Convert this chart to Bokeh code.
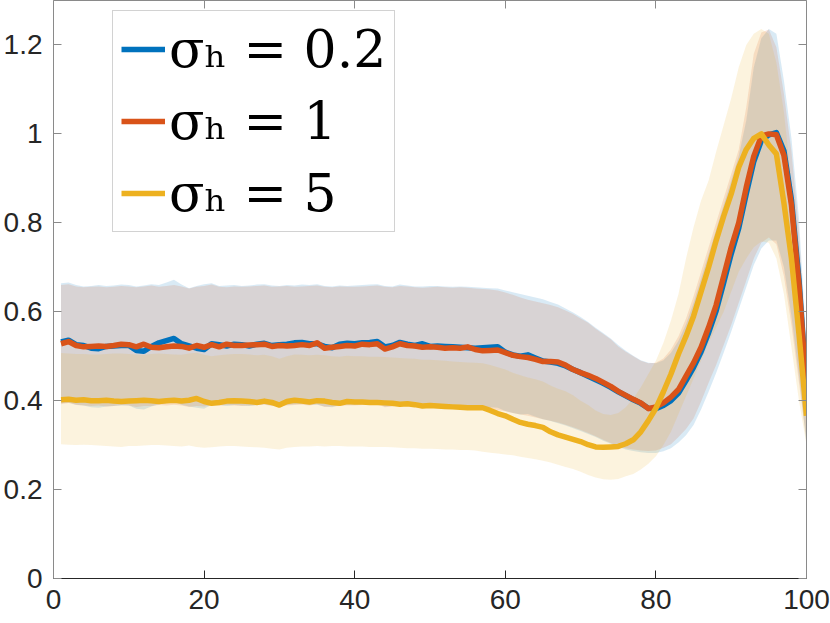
from bokeh.plotting import figure
from bokeh.models import Range1d, LinearAxis, FixedTicker, Legend, LegendItem
from bokeh.embed import file_html
from bokeh.resources import INLINE

# ---------------- data ----------------
X = list(range(1, 101))

SERIES_LABELS = ["σₕ = 0.2", "σₕ = 1", "σₕ = 5"]
SERIES_COLORS = ["#0072BD", "#D95319", "#EDB120"]

MEAN_02 = [
    0.532, 0.536, 0.526, 0.524, 0.518, 0.517, 0.522, 0.523, 0.524, 0.524,
    0.513, 0.511, 0.522, 0.530, 0.535, 0.540, 0.528, 0.523, 0.518, 0.515,
    0.528, 0.526, 0.523, 0.527, 0.526, 0.523, 0.527, 0.529, 0.524, 0.526,
    0.527, 0.530, 0.531, 0.528, 0.528, 0.522, 0.519, 0.527, 0.529, 0.528,
    0.530, 0.531, 0.533, 0.521, 0.524, 0.531, 0.527, 0.524, 0.528, 0.522,
    0.523, 0.522, 0.521, 0.520, 0.519, 0.518, 0.519, 0.520, 0.521, 0.509,
    0.503, 0.500, 0.503, 0.496, 0.489, 0.487, 0.484, 0.478, 0.470, 0.463,
    0.455, 0.447, 0.439, 0.430, 0.420, 0.411, 0.402, 0.394, 0.383, 0.382,
    0.389, 0.400, 0.417, 0.445, 0.475, 0.510, 0.553, 0.602, 0.665, 0.730,
    0.788, 0.865, 0.938, 0.985, 0.998, 1.003, 0.962, 0.852, 0.672, 0.430,
]
MEAN_1 = [
    0.528, 0.533, 0.524, 0.521, 0.522, 0.523, 0.522, 0.524, 0.527, 0.526,
    0.521, 0.527, 0.520, 0.519, 0.521, 0.523, 0.522, 0.518, 0.524, 0.520,
    0.526, 0.521, 0.527, 0.524, 0.524, 0.525, 0.526, 0.527, 0.522, 0.524,
    0.523, 0.524, 0.526, 0.524, 0.530, 0.518, 0.520, 0.522, 0.524, 0.523,
    0.527, 0.526, 0.528, 0.516, 0.521, 0.528, 0.524, 0.523, 0.520, 0.521,
    0.520, 0.518, 0.519, 0.518, 0.521, 0.515, 0.512, 0.513, 0.514, 0.508,
    0.502, 0.499, 0.497, 0.493, 0.488, 0.488, 0.487, 0.480, 0.470, 0.463,
    0.457, 0.450, 0.441, 0.432, 0.421, 0.412, 0.403, 0.395, 0.382, 0.386,
    0.395, 0.408, 0.425, 0.455, 0.485, 0.520, 0.565, 0.615, 0.680, 0.745,
    0.800, 0.880, 0.950, 0.995, 1.000, 0.998, 0.952, 0.840, 0.660, 0.430,
]
MEAN_5 = [
    0.402, 0.403, 0.401, 0.402, 0.400, 0.400, 0.401, 0.399, 0.398, 0.399,
    0.400, 0.401, 0.400, 0.398, 0.400, 0.401, 0.399, 0.401, 0.405, 0.398,
    0.394, 0.396, 0.399, 0.400, 0.399, 0.398, 0.396, 0.399, 0.396, 0.390,
    0.398, 0.401, 0.399, 0.397, 0.400, 0.399, 0.396, 0.394, 0.398, 0.397,
    0.397, 0.396, 0.396, 0.395, 0.394, 0.392, 0.393, 0.391, 0.388, 0.389,
    0.388, 0.387, 0.386, 0.385, 0.384, 0.384, 0.384, 0.378, 0.371, 0.366,
    0.358, 0.351, 0.347, 0.344, 0.340, 0.330, 0.323, 0.318, 0.313, 0.308,
    0.301, 0.296, 0.295, 0.296, 0.297, 0.303, 0.312, 0.330, 0.355, 0.383,
    0.420, 0.460, 0.505, 0.545, 0.590, 0.645, 0.700, 0.760, 0.815, 0.865,
    0.925, 0.965, 0.990, 1.000, 0.975, 0.955, 0.845, 0.720, 0.550, 0.366,
]

UPPER_02 = [
    0.664, 0.666, 0.660, 0.657, 0.658, 0.660, 0.658, 0.659, 0.661, 0.660,
    0.657, 0.659, 0.662, 0.660, 0.666, 0.672, 0.661, 0.653, 0.658, 0.662,
    0.664, 0.658, 0.659, 0.660, 0.658, 0.659, 0.661, 0.662, 0.659, 0.658,
    0.660, 0.659, 0.661, 0.660, 0.662, 0.658, 0.657, 0.659, 0.658, 0.659,
    0.660, 0.661, 0.662, 0.658, 0.657, 0.661, 0.659, 0.657, 0.657, 0.658,
    0.658, 0.657, 0.656, 0.657, 0.656, 0.655, 0.654, 0.653, 0.652, 0.648,
    0.644, 0.640, 0.636, 0.632, 0.628, 0.622, 0.616, 0.607, 0.598, 0.588,
    0.577, 0.564, 0.552, 0.540, 0.525, 0.512, 0.501, 0.491, 0.485, 0.484,
    0.491, 0.508, 0.535, 0.572, 0.620, 0.675, 0.730, 0.785, 0.840, 0.895,
    0.950, 1.030, 1.150, 1.215, 1.236, 1.225, 1.120, 0.990, 0.810, 0.520,
]
LOWER_02 = [
    0.394, 0.396, 0.391, 0.389, 0.385, 0.384, 0.387, 0.388, 0.389, 0.389,
    0.382, 0.380, 0.387, 0.392, 0.395, 0.398, 0.391, 0.387, 0.384, 0.382,
    0.391, 0.390, 0.388, 0.390, 0.389, 0.388, 0.390, 0.392, 0.389, 0.389,
    0.390, 0.392, 0.393, 0.391, 0.391, 0.387, 0.385, 0.390, 0.391, 0.391,
    0.392, 0.393, 0.394, 0.387, 0.388, 0.393, 0.390, 0.388, 0.390, 0.387,
    0.388, 0.387, 0.387, 0.386, 0.386, 0.385, 0.385, 0.385, 0.384, 0.377,
    0.372, 0.369, 0.370, 0.364, 0.358, 0.354, 0.349, 0.344, 0.338, 0.332,
    0.325, 0.318, 0.310, 0.303, 0.296, 0.290, 0.287, 0.284, 0.282, 0.282,
    0.286, 0.293, 0.306, 0.322, 0.345, 0.380, 0.420, 0.462, 0.508, 0.555,
    0.605, 0.655, 0.705, 0.742, 0.760, 0.760, 0.700, 0.590, 0.455, 0.300,
]
UPPER_1 = [
    0.660, 0.662, 0.657, 0.655, 0.656, 0.657, 0.655, 0.656, 0.658, 0.657,
    0.655, 0.657, 0.659, 0.656, 0.658, 0.660, 0.657, 0.652, 0.656, 0.658,
    0.661, 0.656, 0.655, 0.657, 0.656, 0.657, 0.658, 0.659, 0.656, 0.657,
    0.658, 0.656, 0.657, 0.658, 0.659, 0.656, 0.655, 0.657, 0.656, 0.656,
    0.657, 0.658, 0.659, 0.656, 0.655, 0.658, 0.657, 0.655, 0.654, 0.655,
    0.656, 0.655, 0.654, 0.655, 0.654, 0.652, 0.651, 0.650, 0.648, 0.643,
    0.638, 0.632, 0.627, 0.623, 0.619, 0.615, 0.610, 0.603, 0.595, 0.585,
    0.575, 0.562, 0.550, 0.538, 0.522, 0.510, 0.500, 0.490, 0.484, 0.485,
    0.495, 0.515, 0.545, 0.585, 0.635, 0.690, 0.745, 0.800, 0.855, 0.910,
    0.965, 1.060, 1.180, 1.228, 1.235, 1.195, 1.090, 0.960, 0.780, 0.500,
]
LOWER_1 = [
    0.392, 0.395, 0.390, 0.389, 0.388, 0.389, 0.387, 0.388, 0.390, 0.389,
    0.386, 0.388, 0.388, 0.390, 0.389, 0.391, 0.389, 0.386, 0.388, 0.387,
    0.390, 0.389, 0.390, 0.389, 0.388, 0.389, 0.390, 0.391, 0.388, 0.387,
    0.389, 0.390, 0.391, 0.389, 0.392, 0.386, 0.387, 0.388, 0.389, 0.389,
    0.390, 0.391, 0.392, 0.385, 0.387, 0.391, 0.389, 0.388, 0.387, 0.387,
    0.387, 0.386, 0.386, 0.386, 0.387, 0.385, 0.383, 0.381, 0.379, 0.376,
    0.372, 0.369, 0.366, 0.362, 0.358, 0.355, 0.351, 0.346, 0.340, 0.334,
    0.327, 0.320, 0.312, 0.305, 0.298, 0.293, 0.290, 0.288, 0.287, 0.288,
    0.294, 0.302, 0.318, 0.336, 0.360, 0.398, 0.440, 0.480, 0.525, 0.570,
    0.620, 0.670, 0.720, 0.755, 0.767, 0.752, 0.680, 0.570, 0.440, 0.310,
]
UPPER_5 = [
    0.507, 0.506, 0.505, 0.505, 0.504, 0.504, 0.505, 0.506, 0.506, 0.505,
    0.504, 0.503, 0.505, 0.506, 0.505, 0.504, 0.503, 0.506, 0.508, 0.503,
    0.500, 0.502, 0.504, 0.505, 0.505, 0.504, 0.502, 0.503, 0.500, 0.494,
    0.500, 0.504, 0.503, 0.502, 0.503, 0.502, 0.500, 0.499, 0.501, 0.500,
    0.500, 0.499, 0.499, 0.498, 0.497, 0.496, 0.495, 0.494, 0.492, 0.492,
    0.491, 0.490, 0.488, 0.487, 0.486, 0.485, 0.484, 0.480, 0.475, 0.470,
    0.463, 0.457, 0.452, 0.448, 0.443, 0.434, 0.427, 0.421, 0.412, 0.400,
    0.390, 0.378, 0.370, 0.368, 0.372, 0.385, 0.405, 0.430, 0.460, 0.490,
    0.530, 0.580, 0.640, 0.720, 0.790, 0.850, 0.895, 0.960, 1.020, 1.080,
    1.150, 1.200, 1.225, 1.236, 1.225, 1.160, 1.050, 0.890, 0.700, 0.480,
]
LOWER_5 = [
    0.302, 0.301, 0.300, 0.301, 0.300, 0.299, 0.298, 0.297, 0.296, 0.298,
    0.298, 0.299, 0.300, 0.300, 0.299, 0.298, 0.297, 0.299, 0.296, 0.294,
    0.295, 0.297, 0.298, 0.298, 0.297, 0.296, 0.295, 0.294, 0.292, 0.290,
    0.294, 0.296, 0.297, 0.297, 0.298, 0.297, 0.298, 0.298, 0.297, 0.297,
    0.297, 0.296, 0.296, 0.296, 0.295, 0.294, 0.293, 0.293, 0.292, 0.292,
    0.291, 0.290, 0.290, 0.289, 0.289, 0.288, 0.285, 0.283, 0.281, 0.279,
    0.277, 0.274, 0.271, 0.268, 0.265, 0.261, 0.256, 0.251, 0.246, 0.240,
    0.233, 0.227, 0.223, 0.222, 0.224, 0.230, 0.235, 0.245, 0.258, 0.275,
    0.300, 0.330, 0.370, 0.410, 0.450, 0.490, 0.530, 0.565, 0.600, 0.645,
    0.690, 0.720, 0.745, 0.758, 0.755, 0.720, 0.640, 0.520, 0.400, 0.300,
]

X_TICKS = [0, 20, 40, 60, 80, 100]
Y_TICKS = [0, 0.2, 0.4, 0.6, 0.8, 1.0, 1.2]
Y_TICK_LABELS = ["0", "0.2", "0.4", "0.6", "0.8", "1", "1.2"]

MEANS = [MEAN_02, MEAN_1, MEAN_5]
UPPERS = [UPPER_02, UPPER_1, UPPER_5]
LOWERS = [LOWER_02, LOWER_1, LOWER_5]

# ---------------- figure ----------------
AX_DARK = "#262626"
AX_GRAY = "#8a8a8a"

p = figure(width=830, height=623,
           x_range=Range1d(0, 100), y_range=Range1d(0, 1.3),
           output_backend="svg", toolbar_location=None,
           min_border_left=51, min_border_right=24,
           min_border_top=0, min_border_bottom=45,
           x_axis_location=None, y_axis_location=None)
p.grid.visible = False
p.outline_line_color = None
p.background_fill_color = "white"
p.border_fill_color = "white"

def style_axis(ax, color, show_labels, standoff):
    ax.axis_line_color = color
    ax.axis_line_width = 1
    ax.major_tick_line_color = color
    ax.major_tick_line_width = 1
    ax.major_tick_in = 8
    ax.major_tick_out = 0
    ax.minor_tick_line_color = None
    if show_labels:
        ax.major_label_text_font = "Liberation Sans"
        ax.major_label_text_font_size = "28px"
        ax.major_label_text_color = AX_DARK
        ax.major_label_standoff = standoff
    else:
        ax.major_label_text_font_size = "0px"
        ax.major_label_standoff = 0

xb = LinearAxis(ticker=FixedTicker(ticks=X_TICKS))
style_axis(xb, AX_DARK, True, 11)
p.add_layout(xb, "below")

yl = LinearAxis(ticker=FixedTicker(ticks=Y_TICKS),
                major_label_overrides=dict(zip(Y_TICKS, Y_TICK_LABELS)))
style_axis(yl, AX_GRAY, True, 11)
p.add_layout(yl, "left")

xt = LinearAxis(ticker=FixedTicker(ticks=X_TICKS),
                major_label_overrides={t: "" for t in X_TICKS})
style_axis(xt, AX_GRAY, False, 0)
p.add_layout(xt, "above")

yr = LinearAxis(ticker=FixedTicker(ticks=Y_TICKS),
                major_label_overrides={t: "" for t in Y_TICKS})
style_axis(yr, AX_GRAY, False, 0)
p.add_layout(yr, "right")

# shaded bands
for lo, up, col in zip(LOWERS, UPPERS, SERIES_COLORS):
    p.varea(x=X, y1=lo, y2=up, fill_color=col, fill_alpha=0.15)

# mean lines
line_renderers = []
for m, col in zip(MEANS, SERIES_COLORS):
    r = p.line(X, m, line_color=col, line_width=5.5, line_join="round")
    line_renderers.append(r)

legend = Legend(
    items=[LegendItem(label=lab, renderers=[r]) for lab, r in zip(SERIES_LABELS, line_renderers)],
    location=(59, 346), orientation="vertical",
    label_text_font="DejaVu Serif", label_text_font_size="52px",
    label_text_color="black", label_height=60,
    glyph_width=44, glyph_height=20, label_standoff=4,
    padding=8, spacing=12, margin=0,
    border_line_color="#a6a6a6", border_line_width=1,
    background_fill_color="white", background_fill_alpha=1.0,
)
p.add_layout(legend, "center")

open("out.html", "w").write(file_html(p, INLINE))
